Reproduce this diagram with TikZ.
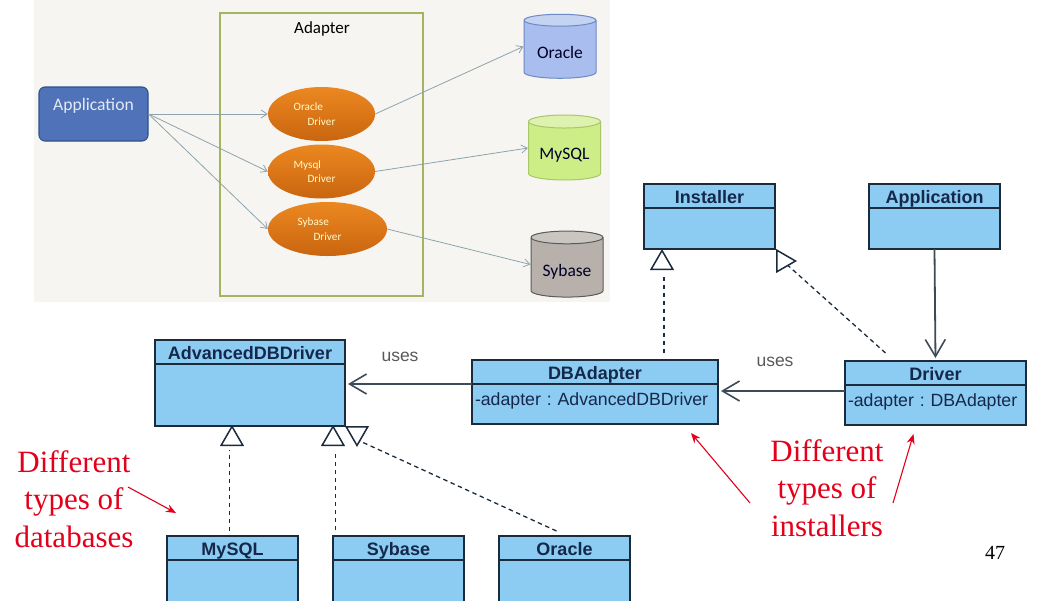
\documentclass[tikz,border=0pt]{standalone}
\usepackage{fontspec}
\setmainfont{Liberation Serif}
\newfontfamily\umlfont{Liberation Sans}
\newfontfamily\slidefont{Carlito}
\usetikzlibrary{shapes.geometric, arrows.meta, positioning}

\definecolor{umlblue}{HTML}{8CCBF2}
\definecolor{umlline}{HTML}{1B2B3C}
\definecolor{umltext}{HTML}{14284A}
\definecolor{slidebg}{HTML}{F7F5F2}
\definecolor{noteRed}{HTML}{E2001A}
\definecolor{wireGray}{HTML}{8FA3AD}
\definecolor{drvTop}{HTML}{EC8820}
\definecolor{drvBottom}{HTML}{C9650F}

\newcommand{\drvlabel}[2]{#1\\\hspace*{#2}Driver\hspace*{#2}}

\begin{document}
\begin{tikzpicture}[
    x=1pt, y=-1pt,
    umlhead/.style={rectangle, draw=umlline, line width=1.4pt, fill=umlblue, anchor=north west, inner sep=0pt, outer sep=0pt, text height=19pt, text depth=5pt, text=umltext, font=\umlfont\bfseries\fontsize{18}{20}\selectfont},
    umlbody/.style={rectangle, draw=umlline, line width=1.4pt, fill=umlblue, inner sep=0pt, outer sep=0pt, text=umltext, font=\umlfont\fontsize{17.7}{20}\selectfont\frenchspacing},
    umlattr/.style={umlbody, align=left, text width=#1, inner xsep=3pt, text height=21pt, text depth=19pt},
    tri/.style={regular polygon, regular polygon sides=3, draw=umlline, line width=1.5pt, fill=white, inner sep=0pt, outer sep=0pt, minimum size=25pt},
    realize/.style={dash pattern=on 4.5pt off 3.5pt, line width=1.3pt, umlline},
    assoc/.style={-{Straight Barb[length=17pt,width=20pt,line width=1.6pt]}, line width=1.8pt, umlline!85, shorten >=3pt},
    note/.style={align=center, text=noteRed, font=\fontsize{31}{37.5}\selectfont},
    notearrow/.style={-{Stealth[length=10pt,width=8pt]}, line width=1.1pt, noteRed},
    uses/.style={text=black!65, font=\umlfont\fontsize{17.5}{20}\selectfont},
    driver/.style={ellipse, draw=none, top color=drvTop, bottom color=drvBottom, minimum height=54pt, inner sep=0pt, align=left, text=yellow!20, font=\slidefont\fontsize{11.2}{14.5}\selectfont},
    dbase/.style={cylinder, shape border rotate=90, aspect=0.26, draw, line width=1pt, cylinder uses custom fill, inner sep=0pt, minimum width=72pt, text height=17pt, text depth=0pt, text=black!85!blue, font=\slidefont\fontsize{17.5}{20}\selectfont},
    wire/.style={-{Straight Barb[length=6pt,width=8pt]}, line width=0.8pt, wireGray}
]
\clip (0,0) rectangle (1055,600);

% Screenshot part
\fill[slidebg] (34,0) rectangle (610,302);
\node[rectangle, draw={rgb,255:red,163;green,182;blue,95}, line width=2.4pt, minimum width=203pt, minimum height=283pt, inner sep=0pt] (adapter) at (321.5,154.5) {};
\node[font=\slidefont\fontsize{17}{20}\selectfont, inner sep=0pt] (adapter_t) at (322,29) {Adapter};
\node[rectangle, rounded corners=6pt, draw={rgb,255:red,47;green,82;blue,136}, line width=1.1pt, fill={rgb,255:red,79;green,114;blue,184}, minimum width=109pt, inner sep=0pt, text={rgb,255:red,226;green,234;blue,245}, text height=23pt, text depth=31pt, font=\slidefont\fontsize{17.6}{20}\selectfont] (app) at (93.5,114) {Application};

\node[driver, minimum width=107pt] (oracle_drv) at (321.5,114) {\drvlabel{Oracle}{14pt}};
\node[driver, minimum width=107pt] (mysql_drv) at (321.5,171.5) {\drvlabel{Mysql}{14pt}};
\node[driver, minimum width=119pt] (sybase_drv) at (327.5,229) {\drvlabel{Sybase}{16pt}};

\node[dbase, minimum height=64pt, draw={rgb,255:red,108;green,137;blue,196}, cylinder body fill={rgb,255:red,169;green,190;blue,238}, cylinder end fill={rgb,255:red,197;green,211;blue,242}] (oracle_db) at (560,49.5) {Oracle};
\node[dbase, minimum height=65pt, draw={rgb,255:red,170;green,197;blue,106}, cylinder body fill={rgb,255:red,205;green,238;blue,134}, cylinder end fill={rgb,255:red,221;green,242;blue,174}] (mysql_db) at (564.5,151) {MySQL};
\node[dbase, minimum height=66pt, draw={rgb,255:red,92;green,90;blue,88}, cylinder body fill={rgb,255:red,184;green,176;blue,170}, cylinder end fill={rgb,255:red,201;green,197;blue,193}] (sybase_db) at (567,267.5) {Sybase};

\draw[wire] (app.east) -- (oracle_drv.west);
\draw[wire] (app.east) -- (mysql_drv.west);
\draw[wire] (app.east) -- (sybase_drv.west);
\draw[wire] (oracle_drv.east) -- ([yshift=3pt]oracle_db.west);
\draw[wire] (mysql_drv.east) -- ([yshift=3pt]mysql_db.west);
\draw[wire] (sybase_drv.east) -- ([yshift=3pt]sybase_db.west);

% Top row
\node[umlhead, minimum width=131pt] (installer_h) at (644,184) {Installer};
\node[umlbody, minimum width=131pt, minimum height=41pt, below=0pt of installer_h] (installer_b) {};
\node[umlhead, minimum width=131pt] (application_h) at (869,184) {Application};
\node[umlbody, minimum width=131pt, minimum height=41pt, below=0pt of application_h] (application_b) {};

% Middle row
\node[umlhead, minimum width=181pt] (driver_h) at (845,361) {Driver};
\node[umlattr=175pt, below=0pt of driver_h] (driver_b) {-adapter : DBAdapter};
\node[umlhead, minimum width=246pt] (dbadapter_h) at (472,360) {DBAdapter};
\node[umlattr=240pt, below=0pt of dbadapter_h] (dbadapter_b) {-adapter : AdvancedDBDriver};
\node[umlhead, minimum width=190pt] (advanced_h) at (155,340) {AdvancedDBDriver};
\node[umlbody, minimum width=190pt, minimum height=62pt, below=0pt of advanced_h] (advanced_b) {};

% Bottom row
\node[umlhead, minimum width=131pt] (mysql_h) at (167,536) {MySQL};
\node[umlbody, minimum width=131pt, minimum height=46pt, below=0pt of mysql_h] (mysql_b) {};
\node[umlhead, minimum width=131pt] (sybase_h) at (333,536) {Sybase};
\node[umlbody, minimum width=131pt, minimum height=46pt, below=0pt of sybase_h] (sybase_b) {};
\node[umlhead, minimum width=131pt] (oracle_h) at (499,536) {Oracle};
\node[umlbody, minimum width=131pt, minimum height=46pt, below=0pt of oracle_h] (oracle_b) {};

% Triangles
\node[tri] (t_mysql) at (232,439) {};
\node[tri] (t_sybase) at (333,439) {};
\node[tri, shape border rotate=180] (t_oracle) at (357,433) {};
\node[tri] (t_dbadapter) at (662,263) {};
\node[tri, shape border rotate=-90] (t_driver) at (783,261) {};

% Connections
\coordinate (mysql_out) at ([xshift=-3pt,yshift=5pt]mysql_h.north);
\coordinate (sybase_out) at ([xshift=2pt,yshift=6pt]sybase_h.north west);
\coordinate (oracle_out) at ([xshift=-8pt,yshift=5pt]oracle_h.north);
\coordinate (dbadapter_out) at ([xshift=69pt,yshift=7pt]dbadapter_h.north);
\coordinate (driver_out) at ([xshift=-50pt,yshift=8pt]driver_h.north);
\draw[realize, shorten >=5pt] (mysql_out) -- (mysql_out |- t_mysql.south);
\draw[realize, line width=0.7pt, shorten >=5pt] (sybase_out) -- (sybase_out |- t_sybase.south);
\draw[realize] (oracle_out) -- ([xshift=5pt,yshift=-9pt]t_oracle.center);
\draw[realize, shorten >=5pt] (dbadapter_out) -- (dbadapter_out |- t_dbadapter.south);
\draw[realize] (driver_out) -- (t_driver);

\coordinate (driver_use) at ([yshift=-6pt]driver_b.north west);
\draw[assoc] (application_b.south) -- (driver_h.north);
\draw[assoc] (driver_use) -- (driver_use -| dbadapter_b.east);
\draw[assoc] (dbadapter_h.south west) -- (dbadapter_h.south west -| advanced_b.east);
\node[uses] (uses_a) at (400,357) {uses};
\node[uses] (uses_b) at (775,362) {uses};

% Notes
\node[note, inner sep=0pt] (note_db) at (74,499) {Different\\types of\\databases};
\node[note, inner sep=0pt] (note_inst) at (827,488) {Different\\types of\\installers};
\node[font=\fontsize{20}{24}\selectfont, inner sep=0pt] (page_no) at (995,553) {47};
\coordinate (note_db_out) at (128,487);
\coordinate (note_inst_a) at (750,503);
\coordinate (note_inst_b) at (893,503);
\draw[notearrow] (note_db_out) -- ([xshift=9pt,yshift=23pt]mysql_h.north west);
\draw[notearrow] (note_inst_a) -- ([xshift=-27pt,yshift=-9pt]dbadapter_b.south east);
\draw[notearrow] (note_inst_b) -- ([xshift=-22pt,yshift=-9pt]driver_b.south);

\end{tikzpicture}
\end{document}
